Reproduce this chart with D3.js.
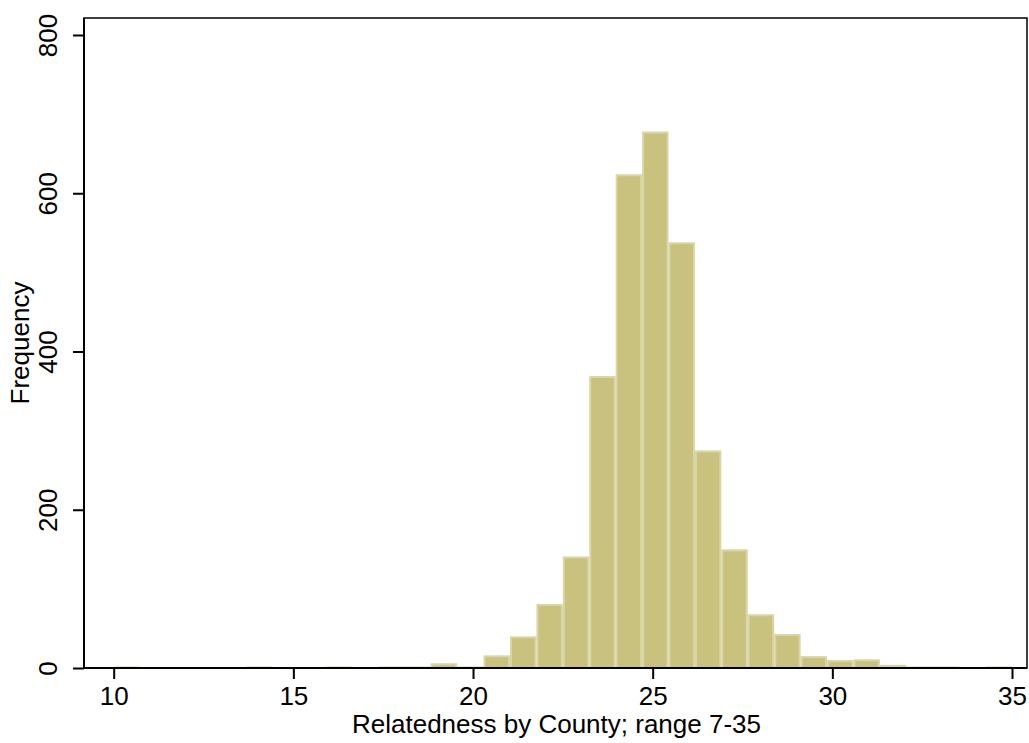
<!DOCTYPE html>
<html>
<head>
<meta charset="utf-8">
<script src="https://cdn.jsdelivr.net/npm/d3@7"></script>
<style>
  body { margin: 0; background: #fff; }
  text { font-family: "Liberation Sans", Arial, sans-serif; }
</style>
</head>
<body>
<div id="chart"></div>
<script>
// histogram: 34 bins from 10 to 35
const binMin = 10;
const binMax = 35;
const counts = [1, 0, 0, 0, 0, 1, 0, 0, 1, 0, 1, 1, 6, 1, 16, 40, 81, 141,
                369, 624, 678, 538, 275, 150, 68, 43, 15, 10, 11, 4, 1, 1, 0, 1];
const xTicks = [10, 15, 20, 25, 30, 35];
const yTicks = [0, 200, 400, 600, 800];
const xTitle = "Relatedness by County; range 7-35";
const yTitle = "Frequency";

(function () {
    const W = 1029, H = 743;
    const frame = { left: 84, right: 1027, top: 18, bottom: 668 };
    const binW = (binMax - binMin) / counts.length;

    const svg = d3.select("#chart").append("svg")
        .attr("width", W)
        .attr("height", H);

    const x = d3.scaleLinear().domain([10, 35]).range([113.7, 1012]);
    const y = d3.scaleLinear().domain([0, 800]).range([668, 35]);

    const bins = counts.map((c, i) => ({ x0: binMin + i * binW, x1: binMin + (i + 1) * binW, n: c }))
        .filter(d => d.n > 0);

    // bars
    svg.append("g").selectAll("rect")
        .data(bins)
        .enter()
        .append("rect")
        .attr("x", d => x(d.x0) + 1)
        .attr("y", d => Math.min(y(d.n) + 1, y(0) - 0.5))
        .attr("width", d => x(d.x1) - x(d.x0) - 2)
        .attr("height", d => Math.max(0.5, y(0) - y(d.n) - 1))
        .attr("fill", "#c9c27e")
        .attr("stroke", "#dad5a4")
        .attr("stroke-width", 2);

    // frame (top and right)
    svg.append("rect")
        .attr("x", frame.left)
        .attr("y", frame.top)
        .attr("width", frame.right - frame.left)
        .attr("height", frame.bottom - frame.top)
        .attr("fill", "none")
        .attr("stroke", "#000")
        .attr("stroke-width", 1.5);

    // x axis
    const xAxis = svg.append("g")
        .attr("transform", `translate(0,${frame.bottom})`)
        .call(d3.axisBottom(x).tickValues(xTicks).tickSize(11).tickPadding(8).tickSizeOuter(0));
    xAxis.select(".domain")
        .attr("d", `M${frame.left},0H${frame.right}`)
        .attr("stroke-width", 2);
    xAxis.selectAll(".tick line").attr("stroke-width", 2);
    xAxis.selectAll(".tick text")
        .attr("font-size", 26)
        .attr("font-family", "Liberation Sans, Arial, sans-serif")
        .attr("fill", "#000");

    // y axis
    const yAxis = svg.append("g")
        .attr("transform", `translate(${frame.left},0)`)
        .call(d3.axisLeft(y).tickValues(yTicks).tickSize(11).tickSizeOuter(0));
    yAxis.select(".domain")
        .attr("d", `M0,${frame.bottom}V${frame.top}`)
        .attr("stroke-width", 2);
    yAxis.selectAll(".tick line").attr("stroke-width", 2);
    yAxis.selectAll(".tick text")
        .attr("font-size", 26)
        .attr("font-family", "Liberation Sans, Arial, sans-serif")
        .attr("fill", "#000")
        .attr("x", null).attr("dy", null)
        .attr("text-anchor", "middle")
        .attr("transform", "translate(-27,0) rotate(-90)");

    // axis titles
    svg.append("text")
        .attr("x", (frame.left + frame.right) / 2 + 1)
        .attr("y", 733)
        .attr("text-anchor", "middle")
        .attr("font-size", 26)
        .text(xTitle);

    svg.append("text")
        .attr("transform", `translate(29,${(frame.top + frame.bottom) / 2}) rotate(-90)`)
        .attr("text-anchor", "middle")
        .attr("font-size", 26)
        .text(yTitle);
})();
</script>
</body>
</html>
